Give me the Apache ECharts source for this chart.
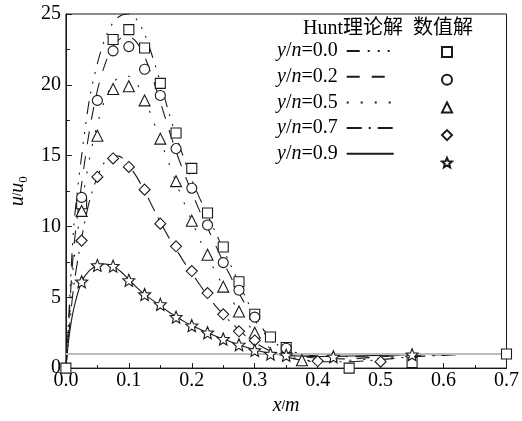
<!DOCTYPE html>
<html>
<head>
<meta charset="utf-8">
<script src="https://cdn.jsdelivr.net/npm/echarts@6/dist/echarts.min.js"></script>
<style>
  html, body { margin: 0; padding: 0; background: #fff; }
  #chart { width: 522px; height: 421px; }
</style>
</head>
<body>
<div id="chart"></div>
<script>
// Relative height y/n of each profile
const ratioLabels = ['0.0', '0.2', '0.5', '0.7', '0.9'];

// Hunt analytic solution, [x (m), u/u0]
const hunt00 = [[0,0],[0.005,4],[0.0125,10],[0.025,15],[0.0375,19],[0.05,21.5],[0.0625,23.3],[0.075,24.4],[0.0875,24.9],[0.1,25],[0.1125,24.6],[0.125,23.6],[0.1375,22.0],[0.15,20.2],[0.1625,18.2],[0.175,16.4],[0.1875,14.8],[0.2,13.3],[0.2125,12.0],[0.225,10.8],[0.2375,9.6],[0.25,8.4],[0.2625,7.2],[0.275,6.0],[0.2875,4.8],[0.3,3.7],[0.3125,2.8],[0.325,2.1],[0.3375,1.6],[0.35,1.3],[0.375,1.0],[0.4,0.85],[0.45,0.8],[0.5,0.9],[0.55,0.95],[0.6,1.0],[0.65,1.0]];
const hunt02 = [[0,0],[0.005,3.5],[0.0125,8.5],[0.025,13],[0.0375,16.8],[0.05,19.6],[0.0625,21.5],[0.075,22.7],[0.0875,23.3],[0.1,23.4],[0.1125,23.0],[0.125,22.0],[0.1375,20.5],[0.15,18.8],[0.1625,17.0],[0.175,15.3],[0.1875,13.8],[0.2,12.4],[0.2125,11.1],[0.225,9.9],[0.2375,8.7],[0.25,7.5],[0.2625,6.4],[0.275,5.3],[0.2875,4.3],[0.3,3.4],[0.3125,2.6],[0.325,2.0],[0.3375,1.5],[0.35,1.2],[0.375,0.85],[0.4,0.7],[0.45,0.65],[0.5,0.8],[0.55,0.9],[0.6,0.95],[0.65,1.0]];
const hunt05 = [[0,0],[0.005,3],[0.0125,7.5],[0.025,11.5],[0.0375,14.8],[0.05,17.2],[0.0625,19.0],[0.075,20.1],[0.0875,20.6],[0.1,20.6],[0.1125,20.1],[0.125,19.0],[0.1375,17.6],[0.15,16.1],[0.1625,14.6],[0.175,13.1],[0.1875,11.7],[0.2,10.4],[0.2125,9.1],[0.225,7.9],[0.2375,6.8],[0.25,5.8],[0.2625,4.9],[0.275,4.0],[0.2875,3.2],[0.3,2.5],[0.3125,1.9],[0.325,1.4],[0.35,0.9],[0.375,0.6],[0.4,0.5],[0.45,0.55],[0.5,0.7],[0.55,0.85],[0.6,0.95],[0.65,1.0]];
const hunt07 = [[0,0],[0.005,2.5],[0.0125,5.8],[0.025,9.2],[0.0375,11.8],[0.05,13.5],[0.0625,14.6],[0.075,15.0],[0.0875,14.9],[0.1,14.3],[0.1125,13.5],[0.125,12.5],[0.1375,11.4],[0.15,10.3],[0.1625,9.3],[0.175,8.4],[0.1875,7.5],[0.2,6.7],[0.2125,5.9],[0.225,5.1],[0.2375,4.4],[0.25,3.8],[0.2625,3.2],[0.275,2.7],[0.2875,2.2],[0.3,1.8],[0.325,1.2],[0.35,0.8],[0.375,0.55],[0.4,0.45],[0.45,0.45],[0.5,0.6],[0.55,0.8],[0.6,0.9],[0.65,1.0]];
const hunt09 = [[0,0],[0.005,2.2],[0.0125,4.2],[0.025,6.1],[0.0375,6.9],[0.05,7.25],[0.0625,7.35],[0.075,7.2],[0.0875,6.8],[0.1,6.25],[0.1125,5.7],[0.125,5.2],[0.1375,4.8],[0.15,4.4],[0.1625,4.0],[0.175,3.65],[0.1875,3.3],[0.2,3.0],[0.225,2.5],[0.25,2.05],[0.275,1.65],[0.3,1.3],[0.325,1.05],[0.35,0.9],[0.375,0.85],[0.4,0.82],[0.45,0.85],[0.5,0.9],[0.55,0.95],[0.6,0.98],[0.65,1.0]];

// Numerical results, [x (m), u/u0]
const num00 = [[0,0],[0.025,11.6],[0.075,23.2],[0.1,23.9],[0.125,22.6],[0.15,20.1],[0.175,16.6],[0.2,14.1],[0.225,10.95],[0.25,8.55],[0.275,6.1],[0.3,3.8],[0.325,2.2],[0.35,1.45],[0.45,0.0],[0.55,0.4],[0.7,1.0]];
const num02 = [[0.025,12.05],[0.05,18.9],[0.075,22.4],[0.1,22.7],[0.125,21.1],[0.15,19.25],[0.175,15.5],[0.2,12.7],[0.225,10.1],[0.25,7.45],[0.275,5.5],[0.3,3.6],[0.35,1.4]];
const num05 = [[0.025,11.1],[0.05,16.4],[0.075,19.7],[0.1,19.9],[0.125,18.9],[0.15,16.2],[0.175,13.2],[0.2,10.4],[0.225,8.0],[0.25,5.75],[0.275,4.0],[0.3,2.5],[0.375,0.55]];
const num07 = [[0.025,9.0],[0.05,13.5],[0.075,14.8],[0.1,14.2],[0.125,12.6],[0.15,10.2],[0.175,8.6],[0.2,6.85],[0.225,5.3],[0.25,3.8],[0.275,2.6],[0.3,1.95],[0.4,0.5],[0.5,0.45]];
const num09 = [[0.025,6.1],[0.05,7.25],[0.075,7.2],[0.1,6.2],[0.125,5.2],[0.15,4.5],[0.175,3.6],[0.2,3.0],[0.225,2.5],[0.25,2.05],[0.275,1.65],[0.3,1.25],[0.325,1.0],[0.35,0.9],[0.425,0.8],[0.55,0.95]];

// Inlet reference level u/u0 = 1
const referenceLevel = 1;

const huntSets = [hunt00, hunt02, hunt05, hunt07, hunt09];
const numSets = [num00, num02, num05, num07, num09];

const SERIF = '"Liberation Serif", "Times New Roman", "Noto Sans CJK SC", serif';
const INK = '#1a1a1a';
const STAR = 'path://M50 0 L63.23 31.8 L97.55 34.55 L71.4 56.95 L79.39 90.45 L50 72.5 L20.61 90.45 L28.6 56.95 L2.45 34.55 L36.77 31.8 Z';

const dashes = [
  [13, 8, 2, 8, 2, 8, 2, 8],   // dash-dot-dot
  [13, 12],                   // long dash
  [2, 12],                    // dotted
  [15, 7, 2, 7],              // dash-dot
  'solid'
];
const symbols = ['rect', 'circle', 'triangle', 'diamond', STAR];
const symbolSizes = [10, 10, 11, 11, 12];

const lineNames = ratioLabels.map(r => 'y/n=' + r);
const markNames = ratioLabels.map(r => 'num y/n=' + r);

const series = [];
huntSets.forEach((d, i) => {
  const s = {
    name: lineNames[i],
    type: 'line',
    data: d,
    symbol: 'none',
    smooth: 0.3,
    z: 2,
    lineStyle: { color: INK, width: 1.1, type: dashes[i] },
    itemStyle: { color: INK }
  };
  if (i === 0) {
    s.markLine = {
      silent: true,
      symbol: 'none',
      label: { show: false },
      lineStyle: { color: '#bdbdbd', width: 2, type: 'solid' },
      data: [{ yAxis: referenceLevel }]
    };
  }
  series.push(s);
});
numSets.forEach((d, i) => {
  series.push({
    name: markNames[i],
    type: 'scatter',
    data: d,
    symbol: symbols[i],
    symbolSize: symbolSizes[i],
    z: 5,
    itemStyle: { color: '#fff', borderColor: INK, borderWidth: 1.1, opacity: 1 }
  });
});

const chart = echarts.init(document.getElementById('chart'), null, { renderer: 'canvas' });
chart.setOption({
  animation: false,
  backgroundColor: '#fff',
  title: {
    text: 'Hunt理论解  数值解',
    left: 303,
    top: 19,
    padding: 0,
    textStyle: { fontFamily: SERIF, fontSize: 20, fontWeight: 'normal', color: '#000' }
  },
  legend: [
    {
      data: lineNames,
      orient: 'vertical',
      left: 277,
      top: 41,
      align: 'right',
      padding: 0,
      itemWidth: 47,
      itemHeight: 20,
      itemGap: 5.7,
      selectedMode: false,
      itemStyle: { opacity: 0 },
      formatter: n => n.replace('y/n', '{i|y}/{i|n}'),
      textStyle: {
        fontFamily: SERIF, fontSize: 20, color: '#000', lineHeight: 20,
        padding: [0, 4, 0, 0],
        rich: { i: { fontFamily: SERIF, fontSize: 20, fontStyle: 'italic', color: '#000', lineHeight: 20 } }
      }
    },
    {
      data: markNames,
      orient: 'vertical',
      left: 441,
      top: 46,
      padding: 0,
      itemWidth: 10,
      itemHeight: 10,
      itemGap: 15.7,
      selectedMode: false,
      formatter: () => '',
      textStyle: { fontSize: 1 }
    }
  ],
  grid: { left: 55, right: 11, top: 14, bottom: 42, show: true, borderColor: INK, borderWidth: 1, backgroundColor: 'transparent' },
  xAxis: {
    type: 'value',
    min: 0, max: 0.7, interval: 0.1,
    name: '{i|x}/{i|m}',
    nameLocation: 'middle',
    nameGap: 18,
    nameTextStyle: { rich: { i: { fontFamily: SERIF, fontSize: 20, fontStyle: 'italic', color: '#000' } } },
    axisLine: { show: true, lineStyle: { color: INK, width: 1 } },
    axisTick: { show: true, inside: true, length: 5, lineStyle: { color: INK } },
    minorTick: { show: true, splitNumber: 2, length: 3, lineStyle: { color: INK } },
    splitLine: { show: false },
    axisLabel: { margin: 3, fontFamily: SERIF, fontSize: 20, color: '#000', formatter: v => v.toFixed(1) }
  },
  yAxis: {
    type: 'value',
    min: 0, max: 25, interval: 5,
    name: '{i|u}/{i|u}{s|0}',
    nameLocation: 'middle',
    nameGap: 28,
    nameTextStyle: {
      rich: {
        i: { fontFamily: SERIF, fontSize: 20, fontStyle: 'italic', color: '#000', lineHeight: 24 },
        s: { fontFamily: SERIF, fontSize: 13, color: '#000', verticalAlign: 'bottom', lineHeight: 14 }
      }
    },
    axisLine: { show: true, lineStyle: { color: INK, width: 1 } },
    axisTick: { show: true, inside: true, length: 6, lineStyle: { color: INK } },
    minorTick: { show: true, splitNumber: 2, length: 4, lineStyle: { color: INK } },
    splitLine: { show: false },
    axisLabel: { margin: 5, fontFamily: SERIF, fontSize: 20, color: '#000' }
  },
  series: series
});
</script>
</body>
</html>
